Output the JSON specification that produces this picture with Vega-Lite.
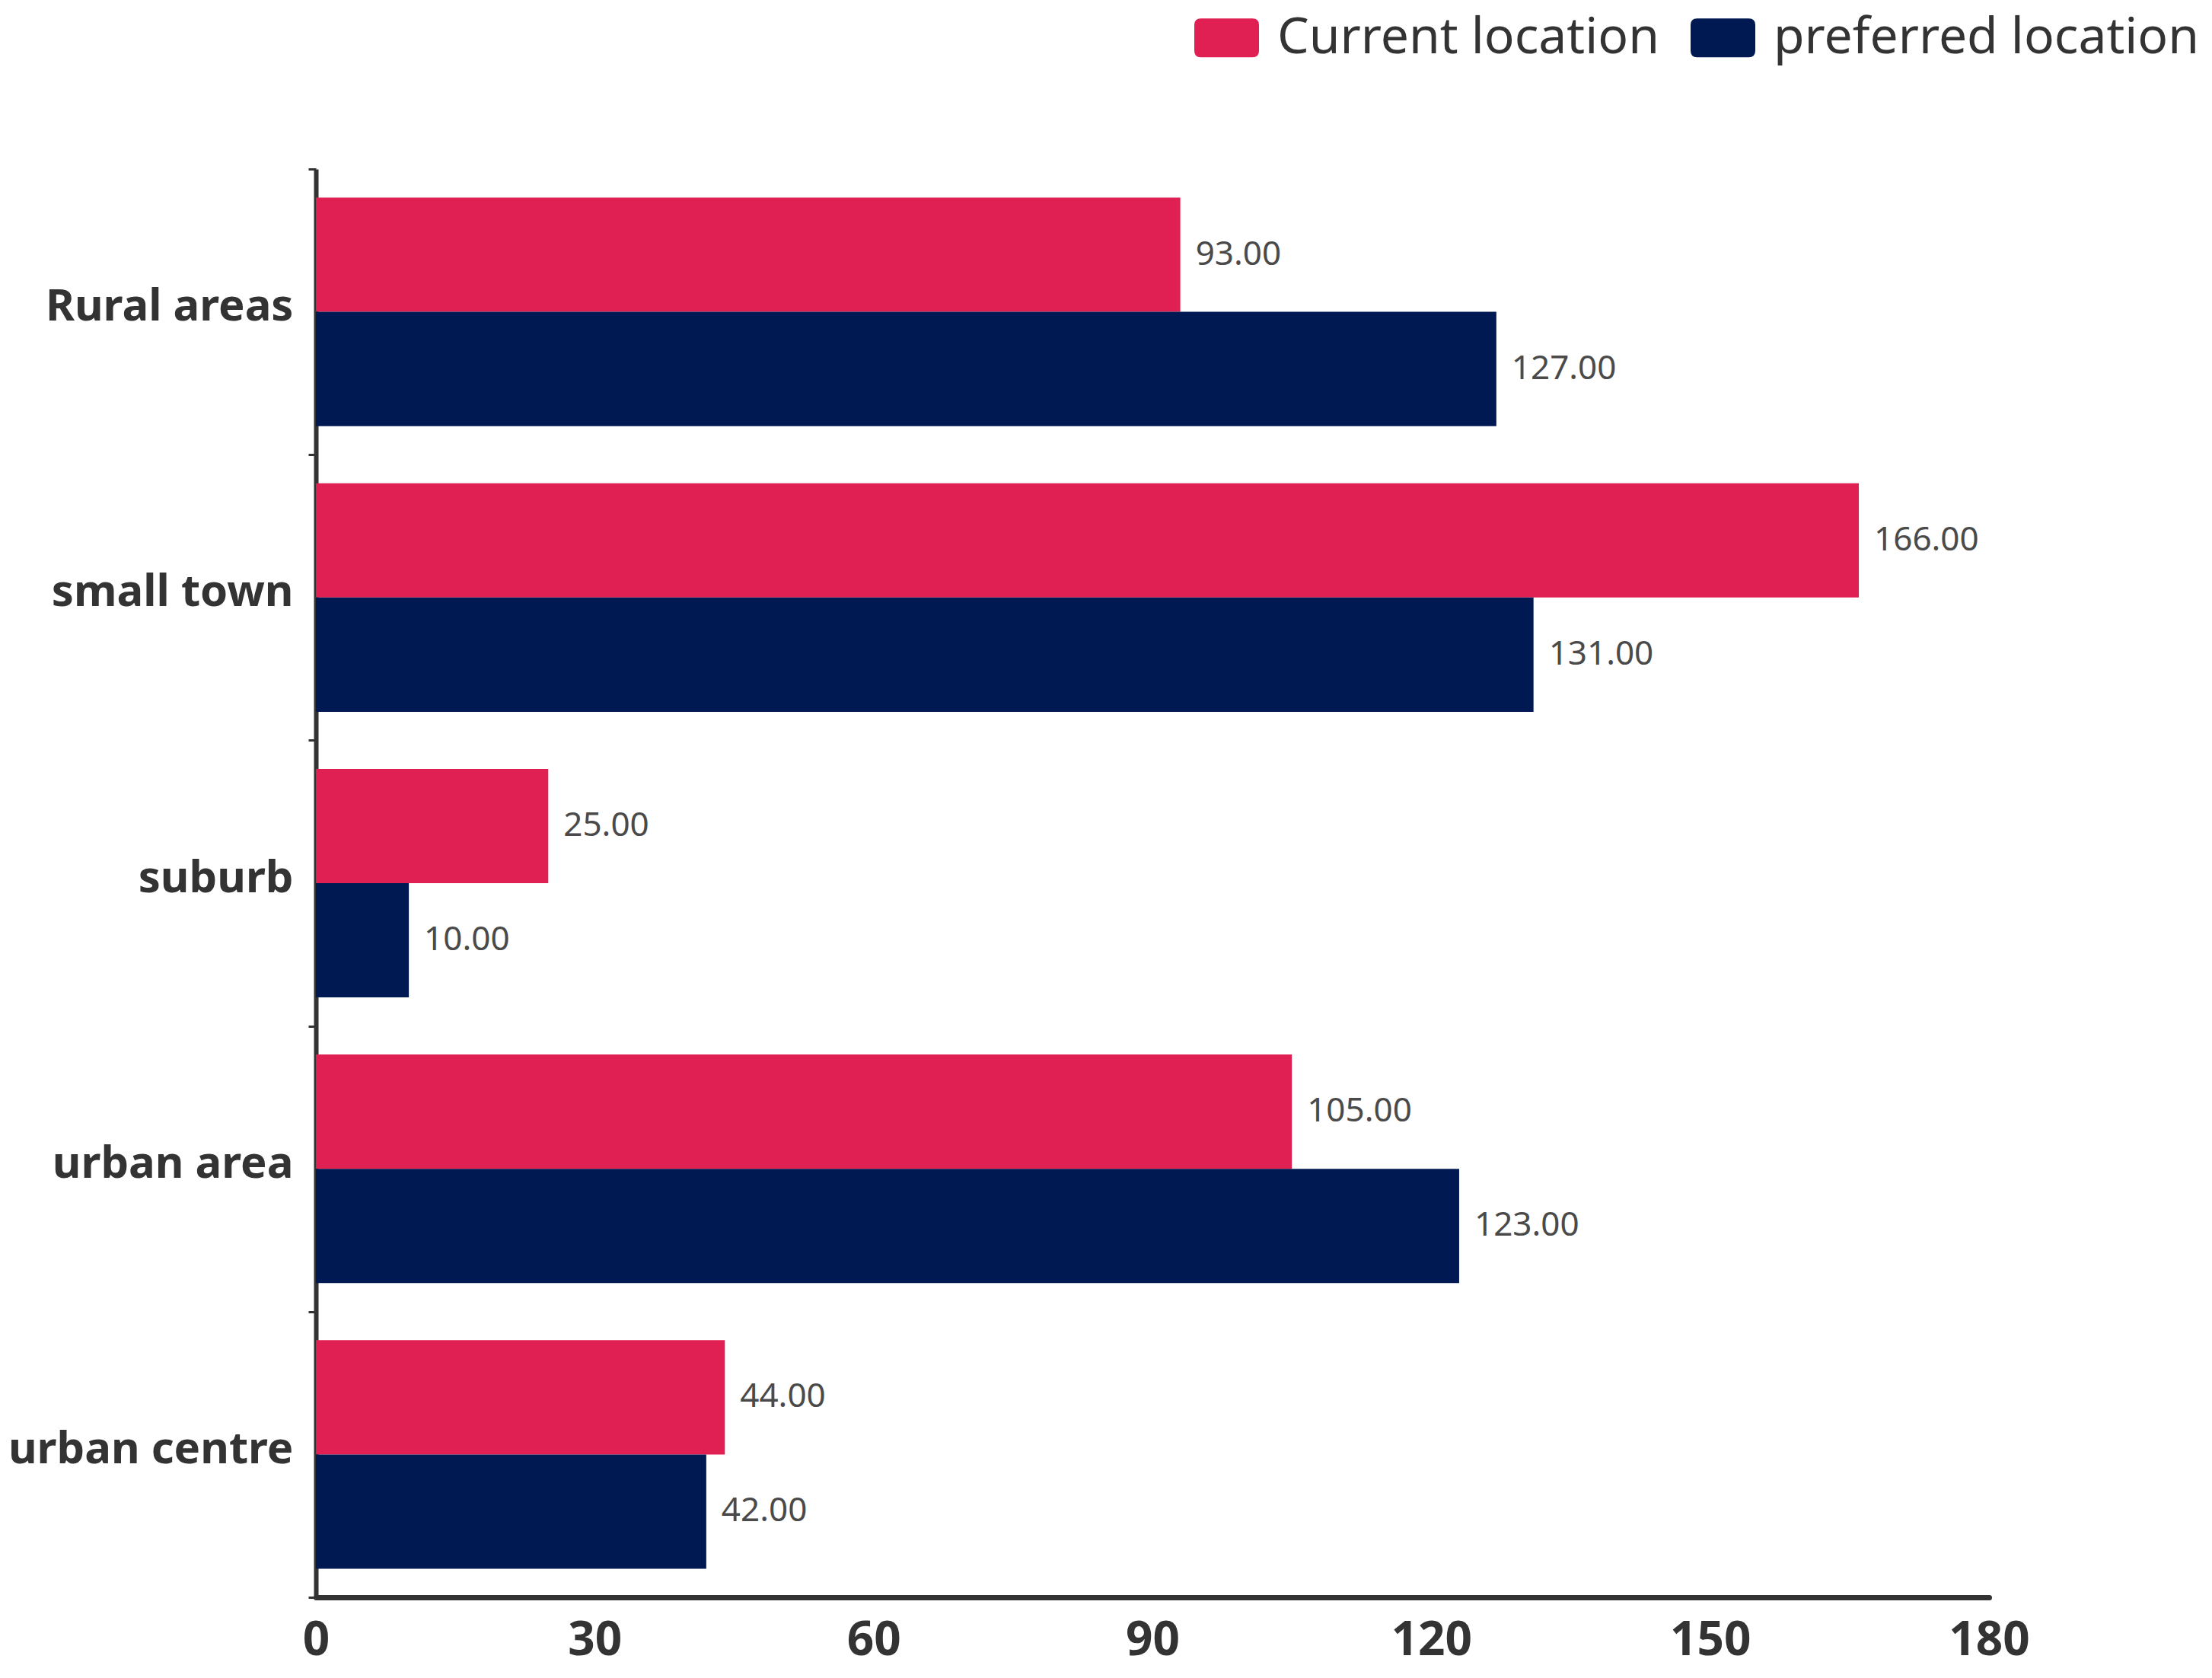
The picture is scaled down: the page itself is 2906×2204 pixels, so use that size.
{
  "$schema": "https://vega.github.io/schema/vega-lite/v6.json",
  "autosize": {"type": "none"},
  "padding": {"left": 415, "top": 222, "right": 293, "bottom": 106},
  "width": 2198,
  "height": 1876,
  "background": "white",
  "config": {"view": {"stroke": null}, "font": "Noto Sans"},
  "data": {
    "values": [
      {"location": "Rural areas", "series": "Current location", "value": 93},
      {"location": "Rural areas", "series": "preferred location", "value": 127},
      {"location": "small town", "series": "Current location", "value": 166},
      {"location": "small town", "series": "preferred location", "value": 131},
      {"location": "suburb", "series": "Current location", "value": 25},
      {"location": "suburb", "series": "preferred location", "value": 10},
      {"location": "urban area", "series": "Current location", "value": 105},
      {"location": "urban area", "series": "preferred location", "value": 123},
      {"location": "urban centre", "series": "Current location", "value": 44},
      {"location": "urban centre", "series": "preferred location", "value": 42}
    ]
  },
  "encoding": {
    "y": {
      "field": "location", "type": "nominal",
      "sort": ["Rural areas", "small town", "suburb", "urban area", "urban centre"],
      "scale": {"paddingInner": 0, "paddingOuter": 0},
      "axis": {
        "title": null, "domainColor": "#333", "domainWidth": 6,
        "tickBand": "extent", "tickSize": 10, "tickWidth": 3, "tickColor": "#333",
        "labelFontSize": 58, "labelFontWeight": "bold", "labelColor": "#333",
        "labelPadding": 20, "labelLimit": 1000, "labelOffset": -6
      }
    },
    "yOffset": {
      "field": "series", "type": "nominal", "sort": ["Current location", "preferred location"],
      "scale": {"paddingInner": 0, "paddingOuter": 0.25}
    },
    "x": {
      "field": "value", "type": "quantitative",
      "scale": {"domain": [0, 180], "nice": false},
      "axis": {
        "title": null, "values": [0, 30, 60, 90, 120, 150, 180], "grid": false,
        "ticks": false, "domainColor": "#333", "domainWidth": 7, "domainCap": "round",
        "labelFontSize": 62, "labelFontWeight": "bold", "labelColor": "#333",
        "labelPadding": 26, "labelFlush": false
      }
    }
  },
  "layer": [
    {
      "mark": {"type": "bar"},
      "encoding": {
        "color": {
          "field": "series", "type": "nominal",
          "scale": {"domain": ["Current location", "preferred location"], "range": ["#E02052", "#001952"]},
          "legend": {
            "title": null, "orient": "none", "direction": "horizontal",
            "legendX": 1154, "legendY": -215, "padding": 0,
            "symbolType": "M -0.8,-0.6 L 0.8,-0.6 Q 1,-0.6 1,-0.4 L 1,0.4 Q 1,0.6 0.8,0.6 L -0.8,0.6 Q -1,0.6 -1,0.4 L -1,-0.4 Q -1,-0.6 -0.8,-0.6 Z",
            "symbolSize": 7225, "symbolStrokeWidth": 0, "symbolOpacity": 1,
            "labelFontSize": 66, "labelColor": "#333", "labelOffset": 24,
            "columnPadding": 41, "labelLimit": 1000
          }
        }
      }
    },
    {
      "mark": {"type": "text", "align": "left", "baseline": "middle", "dx": 20, "fontSize": 44, "color": "#4a4a4a"},
      "encoding": {
        "text": {"field": "value", "type": "quantitative", "format": ".2f"}
      }
    }
  ]
}
